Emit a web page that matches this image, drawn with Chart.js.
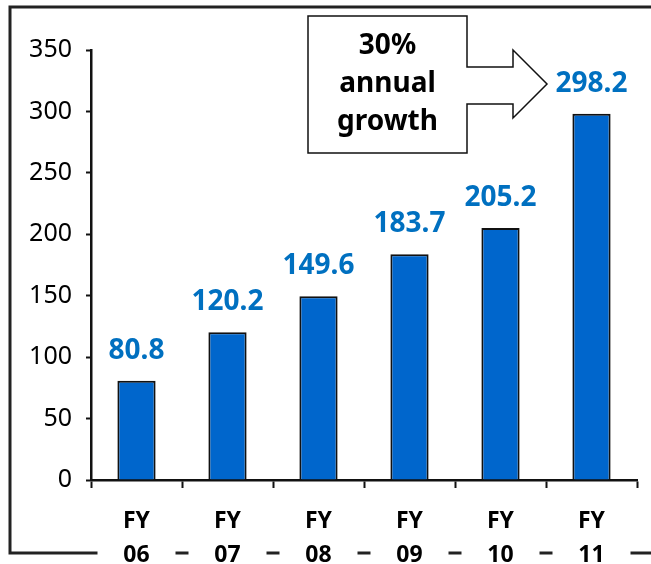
<!DOCTYPE html>
<html>
<head>
<meta charset="utf-8">
<script src="https://cdn.jsdelivr.net/npm/chart.js@4"></script>
<style>
    html, body { margin: 0; padding: 0; background: #fff; }
    #wrap { width: 651px; height: 564px; position: relative; }
</style>
</head>
<body>
<div id="wrap"><canvas id="growth-chart" width="651" height="564"></canvas></div>
<script>
// Revenue by fiscal year
const fiscalYears = [["FY", "06"], ["FY", "07"], ["FY", "08"], ["FY", "09"], ["FY", "10"], ["FY", "11"]];
const revenue = [80.8, 120.2, 149.6, 183.7, 205.2, 298.2];
const yTicks = [0, 50, 100, 150, 200, 250, 300, 350];
const calloutLines = ["30%", "annual", "growth"];

const colors = {
    bar: "#0066cc",
    barEdge: "#111111",
    label: "#0070c0",
    axis: "#111111",
};
const FONT = "'Noto Sans', 'Open Sans', sans-serif";

// outer frame + white gaps behind the bottom-row labels
const framePlugin = {
    id: "frame",
    beforeDraw(chart) {
        const ctx = chart.ctx;
        const x = chart.scales.x;
        ctx.save();
        ctx.strokeStyle = "#222";
        ctx.lineWidth = 3;
        ctx.beginPath();
        ctx.moveTo(651, 7);
        ctx.lineTo(10, 7);
        ctx.lineTo(10, 553);
        ctx.lineTo(651, 553);
        ctx.stroke();
        ctx.fillStyle = "#fff";
        fiscalYears.forEach((_, i) => {
            const cx = x.getPixelForValue(i);
            ctx.fillRect(cx - 39, 540, 78, 24);
        });
        ctx.restore();
    },
};

// value labels above bars + callout arrow
const labelPlugin = {
    id: "valueLabels",
    afterDatasetsDraw(chart) {
        const ctx = chart.ctx;
        const meta = chart.getDatasetMeta(0);
        ctx.save();
        ctx.font = "bold 28px " + FONT;
        ctx.fillStyle = colors.label;
        ctx.textAlign = "center";
        ctx.textBaseline = "middle";
        meta.data.forEach((bar, i) => {
            ctx.fillText(revenue[i].toFixed(1), bar.x, bar.y - 30);
        });

        // arrow-shaped callout
        const left = 308, top = 16, right = 467, bottom = 153;
        const bodyTop = 67, bodyBot = 104, headTop = 50, headBot = 118;
        const headX = 513, tipX = 547, tipY = 84;
        ctx.beginPath();
        ctx.moveTo(left, top);
        ctx.lineTo(right, top);
        ctx.lineTo(right, bodyTop);
        ctx.lineTo(headX, bodyTop);
        ctx.lineTo(headX, headTop);
        ctx.lineTo(tipX, tipY);
        ctx.lineTo(headX, headBot);
        ctx.lineTo(headX, bodyBot);
        ctx.lineTo(right, bodyBot);
        ctx.lineTo(right, bottom);
        ctx.lineTo(left, bottom);
        ctx.closePath();
        ctx.fillStyle = "#fff";
        ctx.fill();
        ctx.strokeStyle = "#111";
        ctx.lineWidth = 1.5;
        ctx.stroke();

        ctx.fillStyle = "#000";
        ctx.font = "bold 28px " + FONT;
        calloutLines.forEach((t, i) => {
            ctx.fillText(t, (left + right) / 2, 46 + i * 38);
        });
        ctx.restore();
    },
};

new Chart(document.getElementById("growth-chart"), {
    type: "bar",
    data: {
        labels: fiscalYears,
        datasets: [{
            data: revenue,
            backgroundColor: colors.bar,
            borderColor: colors.barEdge,
            borderWidth: 2,
            barPercentage: 0.84,
            categoryPercentage: 0.5,
        }],
    },
    options: {
        responsive: false,
        animation: false,
        layout: { padding: { top: 50, right: 14, left: 0, bottom: 0 } },
        plugins: {
            legend: { display: false },
            tooltip: { enabled: false },
        },
        scales: {
            x: {
                afterFit: s => { s.height = 84; },
                border: { color: colors.axis, width: 2.5 },
                grid: {
                    drawOnChartArea: false,
                    drawTicks: true,
                    tickLength: 8,
                    tickWidth: 2,
                    tickColor: colors.axis,
                    offset: true,
                },
                ticks: {
                    color: "#000",
                    padding: 17,
                    font: { family: FONT, size: 23, weight: "bold", lineHeight: 1.45 },
                },
            },
            y: {
                min: 0,
                max: 350,
                afterFit: s => { s.width = 91; },
                afterBuildTicks: s => { s.ticks = yTicks.map(v => ({ value: v })); },
                border: { color: colors.axis, width: 2.5 },
                grid: {
                    drawOnChartArea: false,
                    drawTicks: true,
                    tickLength: 5,
                    tickWidth: 2,
                    tickColor: colors.axis,
                },
                ticks: {
                    color: "#000",
                    padding: 14,
                    font: { family: FONT, size: 25 },
                },
            },
        },
    },
    plugins: [framePlugin, labelPlugin],
});
</script>
</body>
</html>
